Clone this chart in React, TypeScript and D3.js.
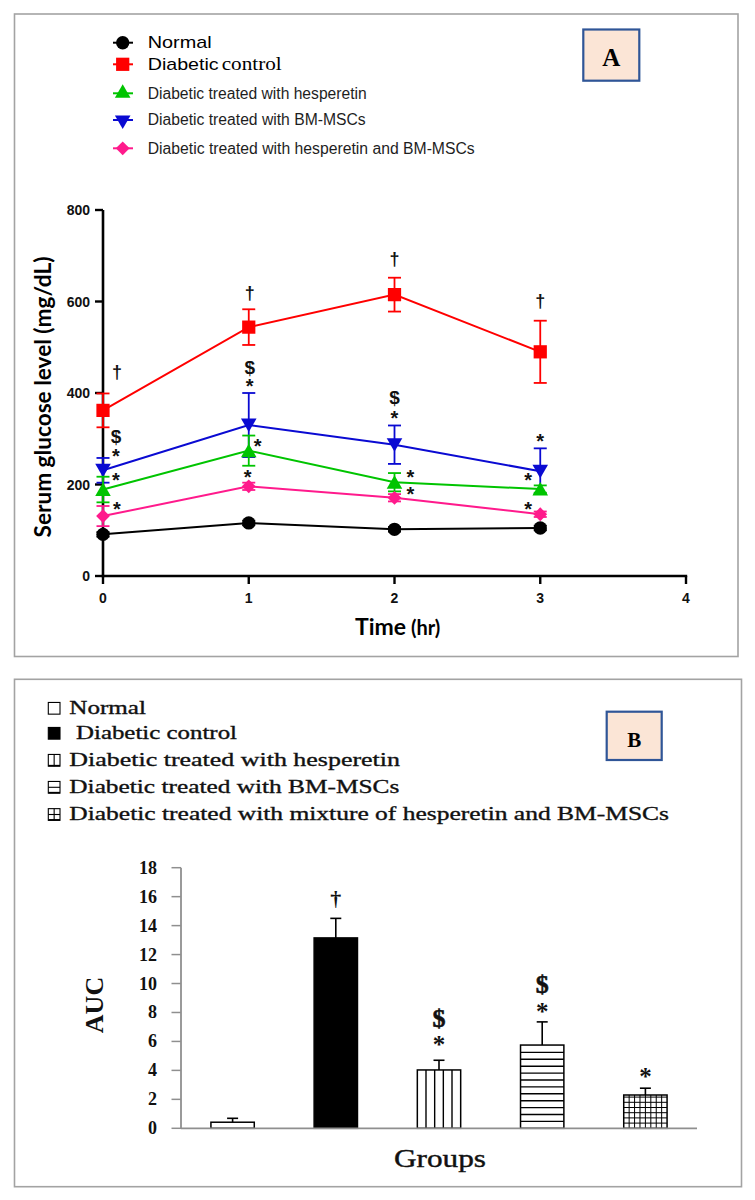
import React from 'react';
import * as d3 from 'd3';

// ---------- Panel A data ----------
const times = [0, 1, 2, 3];
const normalGlucose = [91, 116, 102, 105];
const normalSD = [5, 5, 5, 5];
const diabeticGlucose = [362, 544, 615, 490];
const diabeticSD = [37, 39, 37, 68];
const hespGlucose = [189, 274, 205, 190];
const hespSD = [28, 33, 20, 8];
const bmGlucose = [231, 330, 287, 229];
const bmSD = [27, 70, 42, 50];
const comboGlucose = [131, 196, 171, 135];
const comboSD = [22, 8, 8, 6];

const yTicksA = [0, 200, 400, 600, 800];
const xTicksA = [0, 1, 2, 3, 4];

const legendLabelsA = [
  'Normal',
  'Diabetic control',
  'Diabetic treated with hesperetin',
  'Diabetic treated with BM-MSCs',
  'Diabetic treated with hesperetin and BM-MSCs',
];

// significance marks: [symbol, time, value]
const annSymbolsA = ['†', '$', '*', '*', '*', '†', '$', '*', '*', '*', '†', '$', '*', '*', '*', '†', '*', '*', '*'];
const annTimesA = [0, 0, 0, 0, 0, 1, 1, 1, 1, 1, 2, 2, 2, 2, 2, 3, 3, 3, 3];
const annValuesA = [444, 306, 271, 219, 155, 616, 455, 424, 293, 225, 691, 390, 355, 226, 188, 599, 304, 219, 155];
const annShiftA = [14, 13, 13, 13, 14, 1, 1, 1, 9, -1, 0, 0, 0, 16, 16, 0, 0, -12, -12];

// ---------- Panel B data ----------
const groupsB = [
  'Normal',
  'Diabetic control',
  'Diabetic treated with hesperetin',
  'Diabetic treated with BM-MSCs',
  'Diabetic treated with mixture of hesperetin and BM-MSCs',
];
const aucMean = [0.42, 13.15, 4.03, 5.75, 2.3];
const aucErr = [0.27, 1.35, 0.67, 1.6, 0.47];
const yTicksB = [0, 2, 4, 6, 8, 10, 12, 14, 16, 18];
const annGroupB = [1, 2, 2, 3, 3, 4];
const annSymbolsB = ['†', '$', '*', '$', '*', '*'];
const annValuesB = [15.77, 7.55, 6.03, 9.9, 8.34, 3.85];

const SANS = "'Liberation Sans', Arial, sans-serif";
const SERIF = "'Liberation Serif', 'Times New Roman', serif";
const HUM = "Lato, 'Open Sans', sans-serif";

export default function App() {
  // ---- Panel A scales ----
  const xA = d3.scaleLinear().domain([0, 4]).range([103, 686]);
  const yA = d3.scaleLinear().domain([0, 800]).range([576, 210]);

  const symCircle = d3.symbol().type(d3.symbolCircle).size(140)() as string;
  const symSquare = d3.symbol().type(d3.symbolSquare).size(175)() as string;
  const symTri = d3.symbol().type(d3.symbolTriangle).size(105)() as string;
  const symDiamond = d3.symbol().type(d3.symbolSquare).size(95)() as string;

  const series = [
    { vals: bmGlucose, sd: bmSD, color: '#0a0ad2', path: symTri, rot: 180, dy: -2 },
    { vals: hespGlucose, sd: hespSD, color: '#00c400', path: symTri, rot: 0, dy: 2 },
    { vals: comboGlucose, sd: comboSD, color: '#ff1a8c', path: symDiamond, rot: 45, dy: 0 },
    { vals: normalGlucose, sd: normalSD, color: '#000000', path: symCircle, rot: 0, dy: 0 },
    { vals: diabeticGlucose, sd: diabeticSD, color: '#ff0000', path: symSquare, rot: 0, dy: 0 },
  ];
  const legendMarkers = [
    { color: '#000000', path: symCircle, rot: 0 },
    { color: '#ff0000', path: symSquare, rot: 0 },
    { color: '#00c400', path: symTri, rot: 0 },
    { color: '#0a0ad2', path: symTri, rot: 180 },
    { color: '#ff1a8c', path: symDiamond, rot: 45 },
  ];
  const legendRowsA = [42.7, 64.3, 93.3, 120, 148.3];

  const line = d3
    .line<number>()
    .x((_, i) => xA(times[i]))
    .y((d) => yA(d));

  const glyphDyA = (s: string) => (s === '*' ? 11 : s === '$' ? 6.5 : 5);
  const glyphSizeA = (s: string) => (s === '*' ? 20 : s === '$' ? 19 : 18);

  // ---- Panel B scales ----
  const xB = d3.scaleBand<string>().domain(groupsB).range([181, 697]).paddingInner(0.58).paddingOuter(0.29);
  const yB = d3.scaleLinear().domain([0, 18]).range([1128.3, 867.7]);
  const bw = xB.bandwidth();

  const barFill = (i: number) => (i === 1 ? '#000' : '#fff');

  const patternLines = (i: number, x0: number, y0: number, x1: number, y1: number) => {
    const out: JSX.Element[] = [];
    if (i === 2) {
      const n = 5;
      for (let k = 1; k < n; k++) {
        const x = x0 + ((x1 - x0) * k) / n;
        out.push(<line key={'v' + k} x1={x} x2={x} y1={y0} y2={y1} stroke="#000" strokeWidth={1.4} />);
      }
    } else if (i === 3) {
      const step = 6.9;
      for (let y = y1 - step; y > y0 + 1; y -= step) {
        out.push(<line key={'h' + y} x1={x0} x2={x1} y1={y} y2={y} stroke="#000" strokeWidth={1.4} />);
      }
    } else if (i === 4) {
      const n = 8;
      for (let k = 1; k < n; k++) {
        const x = x0 + ((x1 - x0) * k) / n;
        out.push(<line key={'gv' + k} x1={x} x2={x} y1={y0} y2={y1} stroke="#000" strokeWidth={1} />);
      }
      const step = 5.2;
      for (let y = y1 - step; y > y0 + 1; y -= step) {
        out.push(<line key={'gh' + y} x1={x0} x2={x1} y1={y} y2={y} stroke="#000" strokeWidth={1} />);
      }
    }
    return out;
  };

  const glyphDyB = (s: string) => (s === '*' ? 12 : s === '$' ? 8 : 6);

  const legendRowsB = [708.3, 733.3, 760.3, 787.3, 814.5];
  const legendTextB = [
    { x: 69.3, w: 76.7 },
    { x: 76, w: 161 },
    { x: 69.3, w: 330.7 },
    { x: 69.3, w: 330 },
    { x: 69.3, w: 599.7 },
  ];

  return (
    <svg width={755} height={1200} style={{ position: 'absolute', left: 0, top: 0, background: '#fff' }}>
      <rect x={0} y={0} width={755} height={1200} fill="#fff" />

      {/* ================= PANEL A ================= */}
      <rect x={14.5} y={14} width={723.5} height={642.5} fill="none" stroke="#a3a3a3" strokeWidth={1.6} />

      {/* legend A */}
      {legendMarkers.map((m, i) => (
        <g key={'lm' + i}>
          <line x1={113} x2={133} y1={legendRowsA[i]} y2={legendRowsA[i]} stroke={m.color} strokeWidth={2} />
          <path d={m.path} fill={m.color} transform={`translate(122.7,${legendRowsA[i]}) rotate(${m.rot})`} />
        </g>
      ))}
      <text x={147.7} y={48.3} fontFamily={SANS} fontSize={17} fill="#000" textLength={64} lengthAdjust="spacingAndGlyphs">
        {legendLabelsA[0]}
      </text>
      <text x={147.7} y={70} fontFamily={SANS} fontSize={17} fill="#000" textLength={71} lengthAdjust="spacingAndGlyphs">
        {legendLabelsA[1].split(' ')[0]}
      </text>
      <text x={221.7} y={70} fontFamily={SERIF} fontSize={19} fill="#000" textLength={60} lengthAdjust="spacingAndGlyphs">
        {legendLabelsA[1].split(' ')[1]}
      </text>
      {[2, 3, 4].map((i, k) => (
        <text
          key={'la' + i}
          x={147.7}
          y={legendRowsA[i] + 5.3}
          fontFamily={SANS}
          fontSize={16}
          fill="#1e1e1e"
          textLength={[219, 218, 327][k]}
          lengthAdjust="spacingAndGlyphs"
        >
          {legendLabelsA[i]}
        </text>
      ))}

      {/* A label */}
      <rect x={583.3} y={29.5} width={56} height={51.2} fill="#fbe5d6" stroke="#2f5597" strokeWidth={2.2} />
      <text x={611.3} y={66} textAnchor="middle" fontFamily={SERIF} fontWeight="bold" fontSize={25} fill="#000">
        A
      </text>

      {/* axes A */}
      <line x1={xA(0)} x2={xA(0)} y1={yA(0) + 1.2} y2={yA(800)} stroke="#000" strokeWidth={2.6} />
      <line x1={xA(0) - 1.2} x2={xA(4) + 1.2} y1={yA(0)} y2={yA(0)} stroke="#000" strokeWidth={2.6} />
      {yTicksA.map((t) => (
        <g key={'yt' + t}>
          <line x1={xA(0) - 8} x2={xA(0)} y1={yA(t)} y2={yA(t)} stroke="#000" strokeWidth={2.4} />
          <text x={90} y={yA(t) + 5} textAnchor="end" fontFamily={SANS} fontWeight="bold" fontSize={14} fill="#111">
            {t}
          </text>
        </g>
      ))}
      {xTicksA.map((t) => (
        <g key={'xt' + t}>
          <line x1={xA(t)} x2={xA(t)} y1={yA(0)} y2={yA(0) + 8} stroke="#000" strokeWidth={2.4} />
          <text x={xA(t)} y={603.3} textAnchor="middle" fontFamily={SANS} fontWeight="bold" fontSize={14} fill="#111">
            {t}
          </text>
        </g>
      ))}
      <text x={355} y={635} fontFamily={HUM} fontWeight="bold" fill="#000">
        <tspan fontSize={23}>Time</tspan>
        <tspan fontSize={20}> (hr)</tspan>
      </text>
      <text
        transform={`translate(50.5,397) rotate(-90)`}
        textAnchor="middle"
        fontFamily={HUM}
        fontWeight="bold"
        fontSize={23}
        fill="#000"
        textLength={281}
        lengthAdjust="spacingAndGlyphs"
      >
        Serum glucose level (mg/dL)
      </text>

      {/* series */}
      {series.map((s, si) => (
        <g key={'s' + si}>
          <path d={line(s.vals) as string} fill="none" stroke={s.color} strokeWidth={2} />
          {s.vals.map((v, i) => {
            const x = xA(times[i]);
            return (
              <g key={'e' + i}>
                <line x1={x} x2={x} y1={yA(v - s.sd[i])} y2={yA(v + s.sd[i])} stroke={s.color} strokeWidth={1.8} />
                <line x1={x - 6.5} x2={x + 6.5} y1={yA(v + s.sd[i])} y2={yA(v + s.sd[i])} stroke={s.color} strokeWidth={1.8} />
                <line x1={x - 6.5} x2={x + 6.5} y1={yA(v - s.sd[i])} y2={yA(v - s.sd[i])} stroke={s.color} strokeWidth={1.8} />
              </g>
            );
          })}
          {s.vals.map((v, i) => (
            <path
              key={'m' + i}
              d={s.path}
              fill={s.color}
              transform={`translate(${xA(times[i])},${yA(v) + s.dy}) rotate(${s.rot})`}
            />
          ))}
        </g>
      ))}

      {/* significance A */}
      {annSymbolsA.map((s, i) => (
        <text
          key={'aa' + i}
          x={xA(annTimesA[i]) + annShiftA[i]}
          y={yA(annValuesA[i]) + glyphDyA(s)}
          textAnchor="middle"
          fontFamily={SANS}
          fontWeight="bold"
          fontSize={glyphSizeA(s)}
          fill="#111"
        >
          {s}
        </text>
      ))}

      {/* ================= PANEL B ================= */}
      <rect x={14.5} y={679.3} width={727} height={507.4} fill="none" stroke="#a3a3a3" strokeWidth={1.6} />

      {/* legend B */}
      {legendRowsB.map((cy, i) => {
        const x0 = 48.3;
        const s = 11.7;
        const y0 = cy - s / 2;
        return (
          <g key={'lb' + i}>
            <rect x={x0} y={y0} width={s} height={s} fill={i === 1 ? '#000' : '#fff'} stroke="#000" strokeWidth={1.1} />
            {i === 2 && <line x1={x0 + s / 2} x2={x0 + s / 2} y1={y0} y2={y0 + s} stroke="#000" strokeWidth={1.1} />}
            {i === 3 && <line x1={x0} x2={x0 + s} y1={cy} y2={cy} stroke="#000" strokeWidth={1.1} />}
            {i === 4 && (
              <>
                <line x1={x0 + s / 2} x2={x0 + s / 2} y1={y0} y2={y0 + s} stroke="#000" strokeWidth={1.1} />
                <line x1={x0} x2={x0 + s} y1={cy} y2={cy} stroke="#000" strokeWidth={1.1} />
              </>
            )}
            {(i === 2 || i === 3 || i === 4) && (
              <line x1={x0} x2={x0 + s} y1={y0 + s - 0.5} y2={y0 + s - 0.5} stroke="#000" strokeWidth={1.6} />
            )}
            <text
              x={legendTextB[i].x}
              y={cy + 5.6}
              fontFamily={SERIF}
              fontSize={19}
              fill="#111"
              stroke="#111"
              strokeWidth={0.35}
              textLength={legendTextB[i].w}
              lengthAdjust="spacingAndGlyphs"
            >
              {groupsB[i]}
            </text>
          </g>
        );
      })}

      {/* B label */}
      <rect x={606.7} y={711.7} width={55} height={48.3} fill="#fbe5d6" stroke="#2f5597" strokeWidth={2.2} />
      <text x={634.2} y={747.3} textAnchor="middle" fontFamily={SERIF} fontWeight="bold" fontSize={21} fill="#000">
        B
      </text>

      {/* bars */}
      {groupsB.map((g, i) => {
        const x0 = xB(g) as number;
        const x1 = x0 + bw;
        const yTop = yB(aucMean[i]);
        const yBot = yB(0);
        const cx = x0 + bw / 2;
        const yErr = yB(aucMean[i] + aucErr[i]);
        return (
          <g key={'b' + i}>
            <line x1={cx} x2={cx} y1={yTop} y2={yErr} stroke="#000" strokeWidth={1.6} />
            <line x1={cx - 5.5} x2={cx + 5.5} y1={yErr} y2={yErr} stroke="#000" strokeWidth={1.6} />
            <rect x={x0} y={yTop} width={bw} height={yBot - yTop} fill={barFill(i)} stroke="#000" strokeWidth={1.5} />
            {patternLines(i, x0, yTop, x1, yBot)}
          </g>
        );
      })}

      {/* axes B */}
      <line x1={181} x2={181} y1={yB(0)} y2={yB(18)} stroke="#8f8f8f" strokeWidth={1.8} />
      <line x1={181} x2={697} y1={yB(0)} y2={yB(0)} stroke="#8f8f8f" strokeWidth={1.8} />
      {yTicksB.map((t) => (
        <g key={'bt' + t}>
          <line x1={171.5} x2={181} y1={yB(t)} y2={yB(t)} stroke="#8f8f8f" strokeWidth={1.5} />
          <text x={157} y={yB(t) + 6} textAnchor="end" fontFamily={SERIF} fontWeight="bold" fontSize={18} fill="#111">
            {t}
          </text>
        </g>
      ))}
      <text
        transform={`translate(103,1005) rotate(-90)`}
        textAnchor="middle"
        fontFamily={SERIF}
        fontWeight="bold"
        fontSize={26}
        fill="#111"
      >
        AUC
      </text>
      <text x={440} y={1167} textAnchor="middle" fontFamily={SERIF} fontSize={25} fill="#111" stroke="#111" strokeWidth={0.4} textLength={92} lengthAdjust="spacingAndGlyphs">
        Groups
      </text>

      {/* significance B */}
      {annSymbolsB.map((s, i) => (
        <text
          key={'ab' + i}
          x={(xB(groupsB[annGroupB[i]]) as number) + bw / 2}
          y={yB(annValuesB[i]) + glyphDyB(s)}
          textAnchor="middle"
          fontFamily={SERIF}
          fontWeight="bold"
          fontSize={s === '*' ? 25 : s === '$' ? 26 : 22}
          fill="#111"
          stroke={s === '$' ? '#111' : 'none'}
          strokeWidth={0.6}
        >
          {s}
        </text>
      ))}
    </svg>
  );
}
